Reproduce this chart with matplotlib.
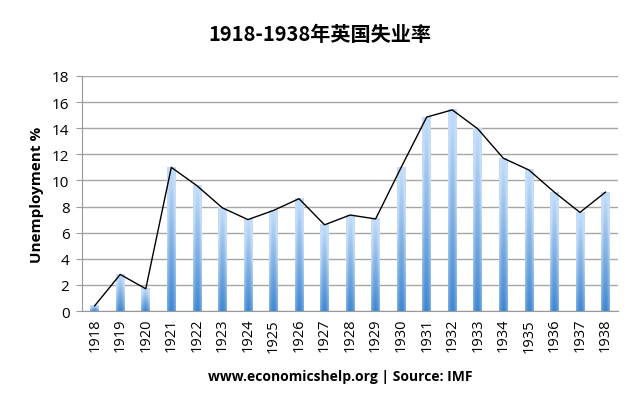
import numpy as np
import matplotlib
matplotlib.use("Agg")
import matplotlib.pyplot as plt
from matplotlib.colors import LinearSegmentedColormap

years = ["1918", "1919", "1920", "1921", "1922", "1923", "1924", "1925", "1926", "1927",
         "1928", "1929", "1930", "1931", "1932", "1933", "1934", "1935", "1936", "1937", "1938"]
unemployment = [0.4, 2.8, 1.7, 11.0, 9.6, 7.9, 7.0, 7.7, 8.6, 6.6,
                7.35, 7.05, 11.0, 14.85, 15.4, 13.95, 11.7, 10.8, 9.1, 7.55, 9.1]

title = "1918-1938年英国失业率"
ylabel = "Unemployment %"
source = "www.economicshelp.org | Source: IMF"

plt.rcParams['font.family'] = ['Open Sans', 'DejaVu Sans']

fig = plt.figure(figsize=(6.4, 4.06), dpi=100)
ax = fig.add_axes([0.128, 0.2315, 0.838, 0.579])

# bar fill: darker blue at the bottom, light at top, lighter at the edges
dark = np.array([0x40, 0x86, 0xd0]) / 255
light = np.array([0xc4, 0xdd, 0xf8]) / 255
vert = np.linspace(0, 1, 128).reshape(-1, 1, 1)
horiz = np.abs(np.linspace(-1, 1, 16)).reshape(1, -1, 1) ** 2
mix = np.clip(vert + 0.45 * horiz, 0, 1)
grad = dark + (light - dark) * mix

w = 0.34
x = np.arange(len(years))
for xi, v in zip(x, unemployment):
    ax.imshow(grad, origin="lower", aspect="auto", interpolation="bilinear",
              extent=[xi - w / 2, xi + w / 2, 0, v], zorder=2)

ax.plot(x, unemployment, color="black", lw=1.0, zorder=3)

ax.set_xlim(-0.5, 20.5)
ax.set_ylim(0, 18)
ax.set_yticks(range(0, 19, 2))
ax.set_xticks(x)
ax.set_xticklabels(years, rotation=90, fontsize=10.5)
ax.tick_params(axis="y", labelsize=11, length=4, color="#999999", pad=5)
ax.tick_params(axis="x", length=0, pad=5)
ax.grid(axis="y", color="#a6a6a6", lw=1.0, zorder=0)
ax.set_axisbelow(True)
for s in ["top", "right"]:
    ax.spines[s].set_visible(False)
ax.spines["left"].set_color("#999999")
ax.spines["bottom"].set_color("#999999")

ax.set_ylabel(ylabel, fontsize=11, fontweight="bold", labelpad=6)

fig.text(0.5, 0.915, title, ha="center", va="center", fontsize=14.5, fontweight="bold",
         family=["Noto Sans CJK SC", "DejaVu Sans"])
fig.text(0.532, 0.072, source, ha="center", va="center", fontsize=10, fontweight="bold")

fig.savefig("out.png", dpi=100)
